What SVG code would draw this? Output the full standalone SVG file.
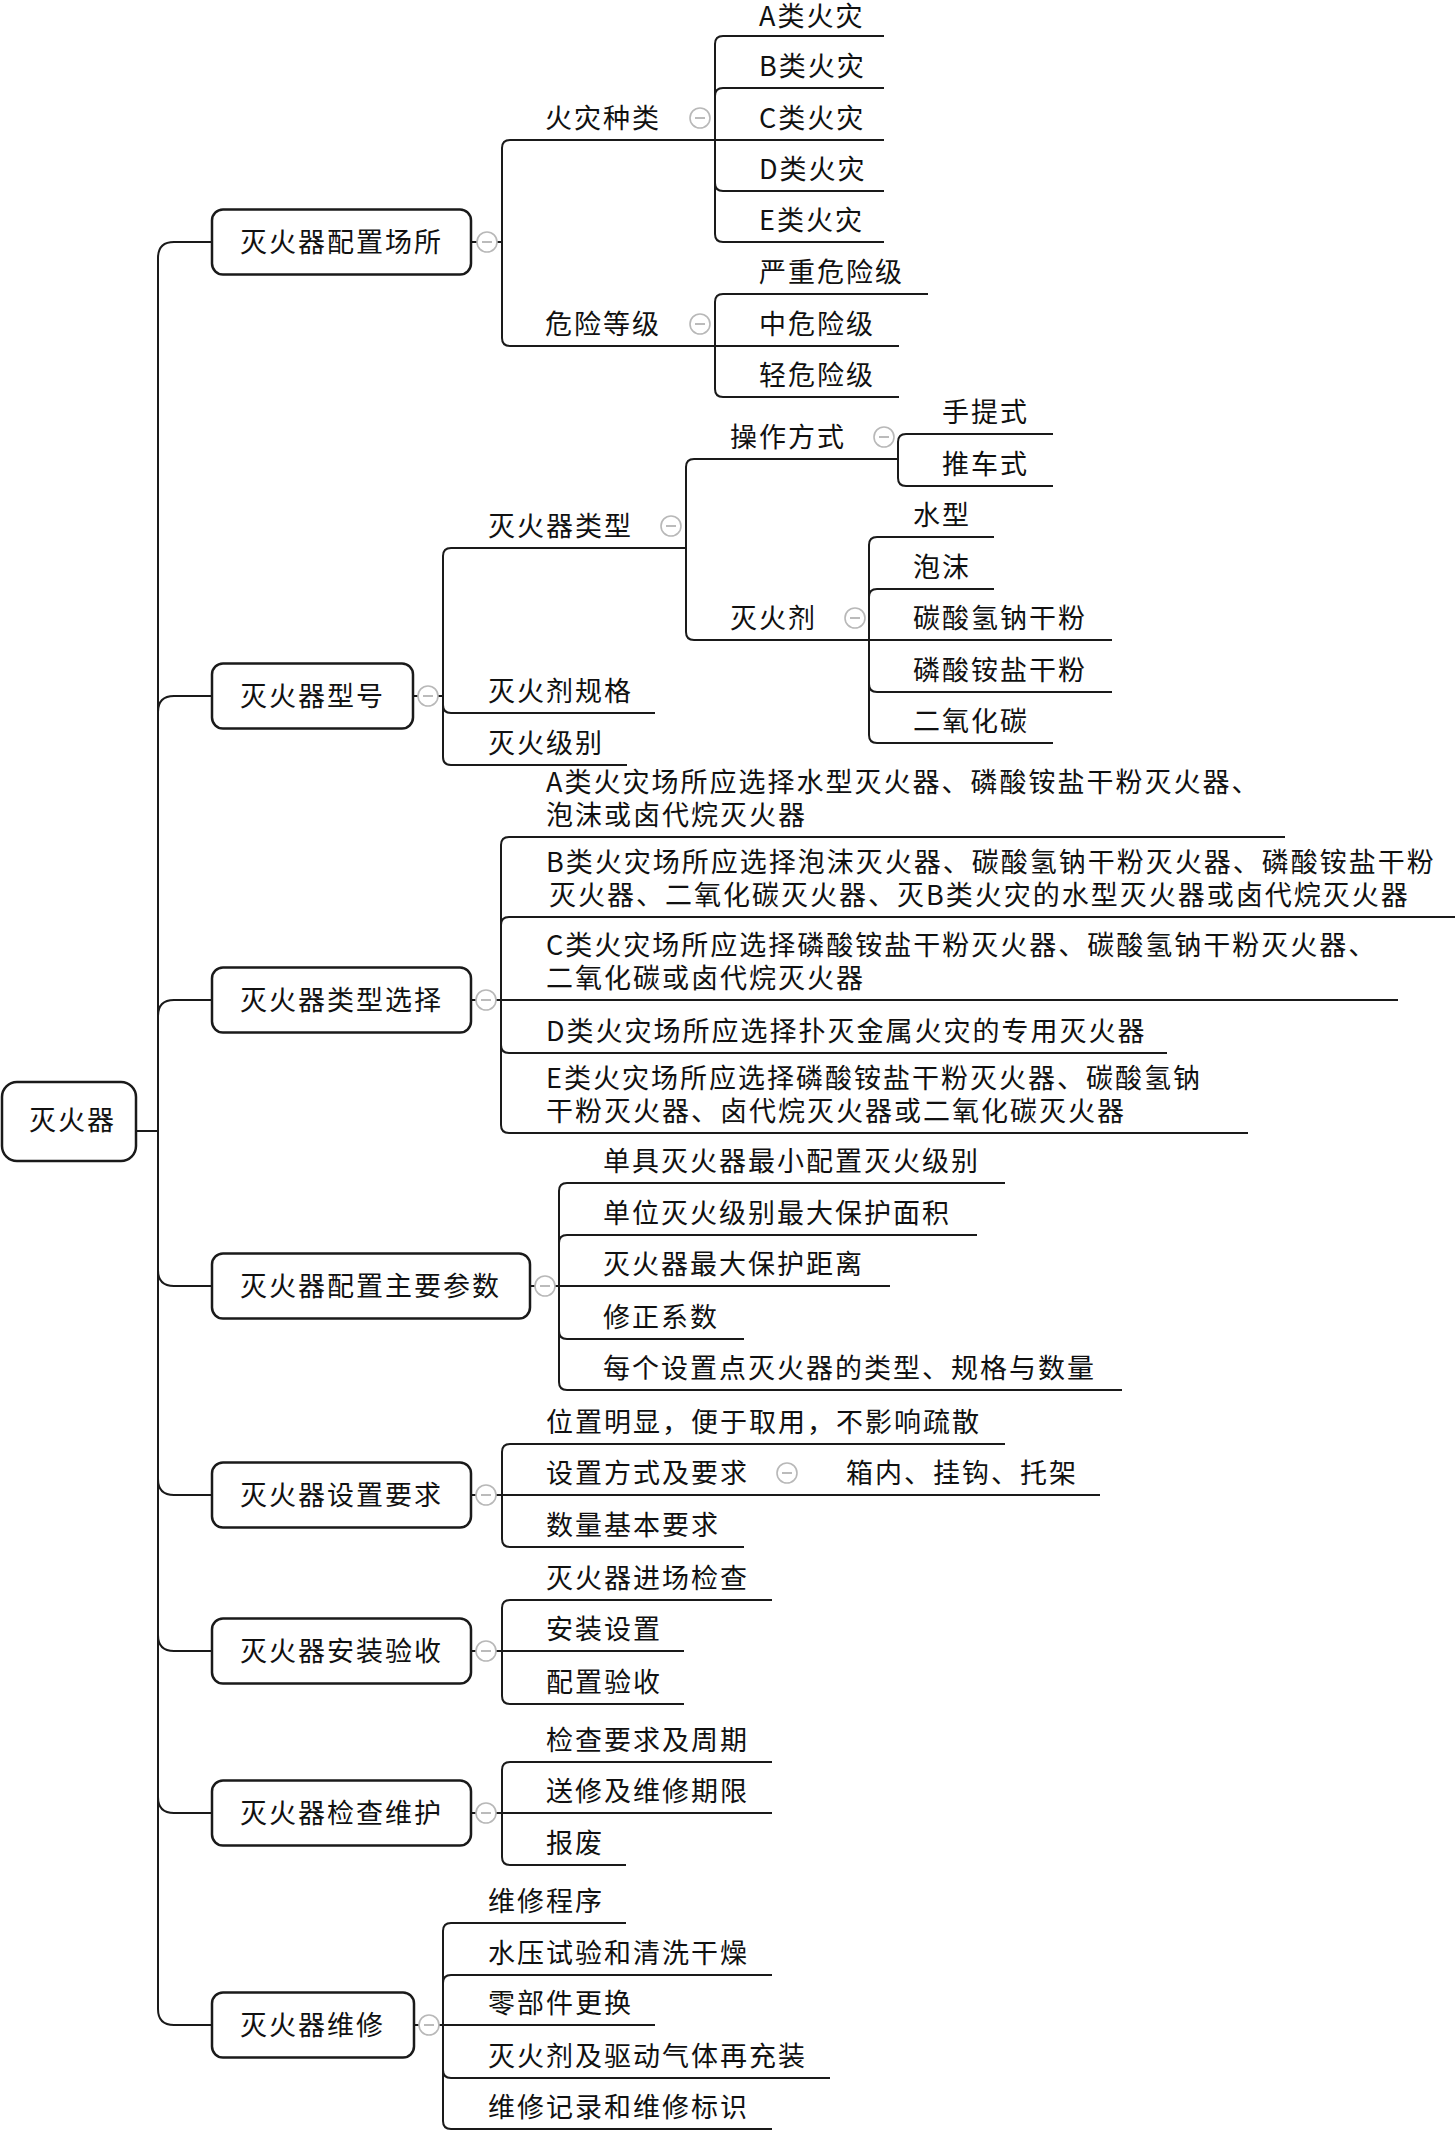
<svg xmlns="http://www.w3.org/2000/svg" xmlns:xlink="http://www.w3.org/1999/xlink" width="1455" height="2131" viewBox="0 0 1455 2131">
<style>
.ln{fill:none;stroke:#1a1a1a;stroke-width:2}
.box{fill:#fff;stroke:#1a1a1a;stroke-width:2.5}
.t{font-family:"Noto Sans CJK SC","Noto Sans CJK JP",sans-serif;font-size:27px;letter-spacing:2px;fill:#111}
.cc{fill:#fff;stroke:#b8b8b8;stroke-width:1.6}
.cm{stroke:#aaa;stroke-width:1.6}
</style>
<defs>
<g id="col"><circle class="cc" r="10"/><line class="cm" x1="-5" y1="0" x2="5" y2="0"/></g>
</defs>
<rect width="1455" height="2131" fill="#fff"/>
<g id="connectors">
<path class="ln" d="M136,1131 H158"/>
<path class="ln" d="M158,1131 V258 Q158,242 174,242 H212"/>
<path class="ln" d="M158,1131 V712 Q158,696 174,696 H212"/>
<path class="ln" d="M158,1131 V1016 Q158,1000 174,1000 H212"/>
<path class="ln" d="M158,1131 V1270 Q158,1286 174,1286 H212"/>
<path class="ln" d="M158,1131 V1479 Q158,1495 174,1495 H212"/>
<path class="ln" d="M158,1131 V1635 Q158,1651 174,1651 H212"/>
<path class="ln" d="M158,1131 V1797 Q158,1813 174,1813 H212"/>
<path class="ln" d="M158,1131 V2009 Q158,2025 174,2025 H212"/>
<path class="ln" d="M471,242 H502"/>
<path class="ln" d="M502,242 V148 Q502,140 510,140 H715"/>
<path class="ln" d="M502,242 V338 Q502,346 510,346 H715"/>
<path class="ln" d="M715,140 V44 Q715,36 723,36 H884"/>
<path class="ln" d="M715,140 V96 Q715,88 723,88 H884"/>
<path class="ln" d="M715,140 H884"/>
<path class="ln" d="M715,140 V183 Q715,191 723,191 H884"/>
<path class="ln" d="M715,140 V234 Q715,242 723,242 H884"/>
<path class="ln" d="M715,346 V302 Q715,294 723,294 H928"/>
<path class="ln" d="M715,346 H899"/>
<path class="ln" d="M715,346 V389 Q715,397 723,397 H899"/>
<path class="ln" d="M413,696 H443"/>
<path class="ln" d="M443,696 V556 Q443,548 451,548 H686"/>
<path class="ln" d="M443,696 V705 Q443,713 451,713 H655"/>
<path class="ln" d="M443,696 V757 Q443,765 451,765 H627"/>
<path class="ln" d="M686,548 V467 Q686,459 694,459 H898"/>
<path class="ln" d="M686,548 V632 Q686,640 694,640 H869"/>
<path class="ln" d="M898,459 V442 Q898,434 906,434 H1053"/>
<path class="ln" d="M898,459 V478 Q898,486 906,486 H1053"/>
<path class="ln" d="M869,640 V545 Q869,537 877,537 H994"/>
<path class="ln" d="M869,640 V597 Q869,589 877,589 H994"/>
<path class="ln" d="M869,640 H1112"/>
<path class="ln" d="M869,640 V684 Q869,692 877,692 H1112"/>
<path class="ln" d="M869,640 V735 Q869,743 877,743 H1053"/>
<path class="ln" d="M471,1000 H501"/>
<path class="ln" d="M501,1000 V845 Q501,837 509,837 H1285"/>
<path class="ln" d="M501,1000 V925 Q501,917 509,917 H1455"/>
<path class="ln" d="M501,1000 H1398"/>
<path class="ln" d="M501,1000 V1045 Q501,1053 509,1053 H1167"/>
<path class="ln" d="M501,1000 V1125 Q501,1133 509,1133 H1248"/>
<path class="ln" d="M530,1286 H559"/>
<path class="ln" d="M559,1286 V1191 Q559,1183 567,1183 H1005"/>
<path class="ln" d="M559,1286 V1243 Q559,1235 567,1235 H977"/>
<path class="ln" d="M559,1286 H890"/>
<path class="ln" d="M559,1286 V1331 Q559,1339 567,1339 H744"/>
<path class="ln" d="M559,1286 V1382 Q559,1390 567,1390 H1122"/>
<path class="ln" d="M471,1495 H502"/>
<path class="ln" d="M502,1495 V1452 Q502,1444 510,1444 H1005"/>
<path class="ln" d="M502,1495 H1100"/>
<path class="ln" d="M502,1495 V1539 Q502,1547 510,1547 H744"/>
<path class="ln" d="M471,1651 H502"/>
<path class="ln" d="M502,1651 V1608 Q502,1600 510,1600 H772"/>
<path class="ln" d="M502,1651 H684"/>
<path class="ln" d="M502,1651 V1696 Q502,1704 510,1704 H684"/>
<path class="ln" d="M471,1813 H502"/>
<path class="ln" d="M502,1813 V1770 Q502,1762 510,1762 H772"/>
<path class="ln" d="M502,1813 H772"/>
<path class="ln" d="M502,1813 V1857 Q502,1865 510,1865 H626"/>
<path class="ln" d="M414,2025 H443"/>
<path class="ln" d="M443,2025 V1931 Q443,1923 451,1923 H626"/>
<path class="ln" d="M443,2025 V1983 Q443,1975 451,1975 H772"/>
<path class="ln" d="M443,2025 H655"/>
<path class="ln" d="M443,2025 V2070 Q443,2078 451,2078 H830"/>
<path class="ln" d="M443,2025 V2121 Q443,2129 451,2129 H772"/>
</g>
<g id="root"><rect class="box" x="2" y="1082" width="134" height="79" rx="15"/><text class="t" x="29" y="1130">灭火器</text></g>
<g id="n1"><rect class="box" x="212" y="209.5" width="259" height="65" rx="11"/><text class="t" x="240" y="252">灭火器配置场所</text><use xlink:href="#col" x="487" y="242"/></g>
<g id="n1a"><text class="t" x="545" y="128">火灾种类</text><use xlink:href="#col" x="700" y="118"/></g>
<g id="n1b"><text class="t" x="545" y="334">危险等级</text><use xlink:href="#col" x="700" y="324"/></g>
<g id="n1a1"><text class="t" x="759" y="26">A类火灾</text></g>
<g id="n1a2"><text class="t" x="759" y="76">B类火灾</text></g>
<g id="n1a3"><text class="t" x="759" y="128">C类火灾</text></g>
<g id="n1a4"><text class="t" x="759" y="179">D类火灾</text></g>
<g id="n1a5"><text class="t" x="759" y="230">E类火灾</text></g>
<g id="n1b1"><text class="t" x="759" y="282">严重危险级</text></g>
<g id="n1b2"><text class="t" x="759" y="334">中危险级</text></g>
<g id="n1b3"><text class="t" x="759" y="385">轻危险级</text></g>
<g id="n2"><rect class="box" x="212" y="663.5" width="201" height="65" rx="11"/><text class="t" x="240" y="706">灭火器型号</text><use xlink:href="#col" x="428" y="696"/></g>
<g id="n2a"><text class="t" x="488" y="536">灭火器类型</text><use xlink:href="#col" x="671" y="526"/></g>
<g id="n2a1"><text class="t" x="730" y="447">操作方式</text><use xlink:href="#col" x="884" y="437"/></g>
<g id="n2a1a"><text class="t" x="942" y="422">手提式</text></g>
<g id="n2a1b"><text class="t" x="942" y="474">推车式</text></g>
<g id="n2a2"><text class="t" x="730" y="628">灭火剂</text><use xlink:href="#col" x="855" y="618"/></g>
<g id="n2a2a"><text class="t" x="913" y="525">水型</text></g>
<g id="n2a2b"><text class="t" x="913" y="577">泡沫</text></g>
<g id="n2a2c"><text class="t" x="913" y="628">碳酸氢钠干粉</text></g>
<g id="n2a2d"><text class="t" x="913" y="680">磷酸铵盐干粉</text></g>
<g id="n2a2e"><text class="t" x="913" y="731">二氧化碳</text></g>
<g id="n2b"><text class="t" x="488" y="701">灭火剂规格</text></g>
<g id="n2c"><text class="t" x="488" y="753">灭火级别</text></g>
<g id="n3"><rect class="box" x="212" y="967.5" width="259" height="65" rx="11"/><text class="t" x="240" y="1010">灭火器类型选择</text><use xlink:href="#col" x="486" y="1000"/></g>
<g id="n3a"><text class="t"><tspan x="546" y="792">A类火灾场所应选择水型灭火器、磷酸铵盐干粉灭火器、</tspan><tspan x="546" y="825">泡沫或卤代烷灭火器</tspan></text></g>
<g id="n3b"><text class="t"><tspan x="546" y="872">B类火灾场所应选择泡沫灭火器、碳酸氢钠干粉灭火器、磷酸铵盐干粉</tspan><tspan x="549" y="905">灭火器、二氧化碳灭火器、灭B类火灾的水型灭火器或卤代烷灭火器</tspan></text></g>
<g id="n3c"><text class="t"><tspan x="546" y="955">C类火灾场所应选择磷酸铵盐干粉灭火器、碳酸氢钠干粉灭火器、</tspan><tspan x="546" y="988">二氧化碳或卤代烷灭火器</tspan></text></g>
<g id="n3d"><text class="t" x="546" y="1041">D类火灾场所应选择扑灭金属火灾的专用灭火器</text></g>
<g id="n3e"><text class="t"><tspan x="546" y="1088">E类火灾场所应选择磷酸铵盐干粉灭火器、碳酸氢钠</tspan><tspan x="546" y="1121">干粉灭火器、卤代烷灭火器或二氧化碳灭火器</tspan></text></g>
<g id="n4"><rect class="box" x="212" y="1253.5" width="318" height="65" rx="11"/><text class="t" x="240" y="1296">灭火器配置主要参数</text><use xlink:href="#col" x="545" y="1286"/></g>
<g id="n4a"><text class="t" x="603" y="1171">单具灭火器最小配置灭火级别</text></g>
<g id="n4b"><text class="t" x="603" y="1223">单位灭火级别最大保护面积</text></g>
<g id="n4c"><text class="t" x="603" y="1274">灭火器最大保护距离</text></g>
<g id="n4d"><text class="t" x="603" y="1327">修正系数</text></g>
<g id="n4e"><text class="t" x="603" y="1378">每个设置点灭火器的类型、规格与数量</text></g>
<g id="n5"><rect class="box" x="212" y="1462.5" width="259" height="65" rx="11"/><text class="t" x="240" y="1505">灭火器设置要求</text><use xlink:href="#col" x="486" y="1495"/></g>
<g id="n5a"><text class="t" x="546" y="1432">位置明显，便于取用，不影响疏散</text></g>
<g id="n5b"><text class="t" x="546" y="1483">设置方式及要求</text><use xlink:href="#col" x="787" y="1473"/></g>
<g id="n5b1"><text class="t" x="846" y="1483">箱内、挂钩、托架</text></g>
<g id="n5c"><text class="t" x="546" y="1535">数量基本要求</text></g>
<g id="n6"><rect class="box" x="212" y="1618.5" width="259" height="65" rx="11"/><text class="t" x="240" y="1661">灭火器安装验收</text><use xlink:href="#col" x="486" y="1651"/></g>
<g id="n6a"><text class="t" x="546" y="1588">灭火器进场检查</text></g>
<g id="n6b"><text class="t" x="546" y="1639">安装设置</text></g>
<g id="n6c"><text class="t" x="546" y="1692">配置验收</text></g>
<g id="n7"><rect class="box" x="212" y="1780.5" width="259" height="65" rx="11"/><text class="t" x="240" y="1823">灭火器检查维护</text><use xlink:href="#col" x="486" y="1813"/></g>
<g id="n7a"><text class="t" x="546" y="1750">检查要求及周期</text></g>
<g id="n7b"><text class="t" x="546" y="1801">送修及维修期限</text></g>
<g id="n7c"><text class="t" x="546" y="1853">报废</text></g>
<g id="n8"><rect class="box" x="212" y="1992.5" width="202" height="65" rx="11"/><text class="t" x="240" y="2035">灭火器维修</text><use xlink:href="#col" x="429" y="2025"/></g>
<g id="n8a"><text class="t" x="488" y="1911">维修程序</text></g>
<g id="n8b"><text class="t" x="488" y="1963">水压试验和清洗干燥</text></g>
<g id="n8c"><text class="t" x="488" y="2013">零部件更换</text></g>
<g id="n8d"><text class="t" x="488" y="2066">灭火剂及驱动气体再充装</text></g>
<g id="n8e"><text class="t" x="488" y="2117">维修记录和维修标识</text></g>
</svg>
